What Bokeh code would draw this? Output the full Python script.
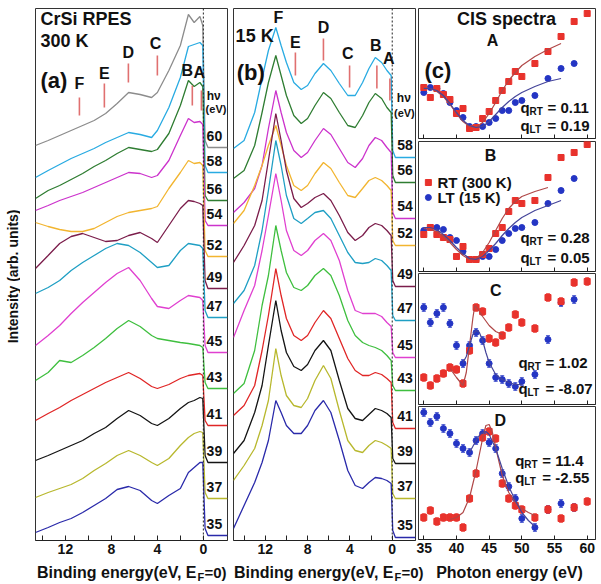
import math
from bokeh.plotting import figure
from bokeh.layouts import row, column
from bokeh.models import Range1d, FixedTicker, Span, Whisker, ColumnDataSource, TeeHead
from bokeh.embed import file_html
from bokeh.resources import INLINE
from bokeh.core.properties import value

FONT = "Liberation Sans"

# ---------------- panel (a): CrSi RPES, 300 K ----------------
be_a = [14.6, 13.5, 12.5, 11.5, 10.5, 9.5, 8.5, 7.5, 6.5, 5.5, 4.5, 4.0, 3.0, 2.0, 1.3, 0.8, 0.3, 0.05, -0.15, -0.4, -2.1]
a_60 = [394, 399, 404, 409, 414, 419, 426, 436, 447, 445, 442, 447, 469, 494, 525, 517, 523, 514, 399, 392, 392]
a_58 = [362, 369, 375, 381, 386, 391, 397, 402, 407, 405, 402, 409, 432, 462, 493, 495, 497, 494, 374, 367, 367]
a_56 = [341, 349, 354, 360, 366, 373, 379, 386, 392, 390, 388, 390, 406, 434, 459, 453, 457, 453, 344, 339, 339]
a_54 = [329, 334, 339, 343, 347, 352, 357, 362, 367, 366, 362, 364, 379, 404, 421, 417, 418, 415, 319, 314, 314]
a_52 = [317, 313, 310, 308, 308, 311, 317, 323, 327, 329, 331, 333, 351, 367, 379, 376, 377, 374, 289, 283, 283]
a_49 = [271, 284, 296, 303, 306, 302, 298, 299, 304, 307, 301, 297, 314, 331, 339, 338, 336, 334, 259, 251, 251]
a_47 = [246, 252, 259, 269, 277, 284, 291, 296, 294, 287, 277, 272, 274, 289, 296, 295, 294, 291, 229, 222, 222]
a_45 = [194, 204, 214, 226, 237, 247, 257, 266, 272, 259, 241, 233, 231, 239, 244, 243, 242, 239, 194, 187, 187]
a_43 = [159, 167, 179, 177, 184, 192, 201, 211, 219, 213, 204, 201, 199, 197, 196, 195, 194, 192, 157, 151, 151]
a_41 = [119, 126, 132, 139, 145, 151, 157, 162, 167, 161, 153, 151, 155, 161, 164, 165, 166, 164, 119, 114, 114]
a_39 = [79, 84, 89, 94, 99, 106, 112, 121, 129, 124, 116, 114, 121, 131, 137, 139, 142, 141, 84, 77, 77]
a_37 = [42, 47, 51, 55, 61, 69, 76, 84, 89, 84, 77, 74, 81, 94, 102, 106, 108, 107, 47, 41, 41]
a_35 = [7, 12, 17, 21, 27, 34, 41, 50, 53, 49, 39, 36, 44, 51, 67, 72, 77, 77, 11, 4, 4]
hv_a = [60, 58, 56, 54, 52, 49, 47, 45, 43, 41, 39, 37, 35]
spec_a = [a_60, a_58, a_56, a_54, a_52, a_49, a_47, a_45, a_43, a_41, a_39, a_37, a_35]

# ---------------- panel (b): 15 K ----------------
be_b = [15.0, 14.0, 13.0, 12.3, 11.7, 11.0, 10.5, 10.0, 9.3, 8.6, 8.0, 7.3, 6.5, 5.8, 5.0, 4.2, 3.5, 2.8, 2.2, 1.6, 1.0, 0.5, 0.1, -0.05, -0.3, -2.2]
b_58 = [391, 399, 427, 461, 489, 512, 494, 477, 457, 450, 454, 466, 476, 469, 456, 444, 444, 457, 471, 482, 477, 469, 464, 389, 382, 382]
b_56 = [361, 369, 394, 427, 457, 484, 464, 444, 424, 416, 421, 434, 447, 441, 427, 414, 412, 424, 437, 446, 441, 432, 427, 364, 357, 357]
b_54 = [327, 337, 351, 374, 411, 449, 427, 407, 389, 382, 387, 399, 411, 405, 391, 377, 372, 381, 394, 402, 399, 392, 387, 327, 321, 321]
b_52 = [316, 329, 354, 374, 394, 414, 394, 374, 354, 349, 354, 366, 377, 371, 357, 344, 342, 351, 359, 362, 359, 354, 349, 299, 294, 294]
b_49 = [277, 294, 314, 339, 379, 426, 399, 369, 341, 332, 336, 342, 346, 339, 324, 307, 299, 304, 312, 316, 314, 309, 304, 259, 253, 253]
b_47 = [236, 249, 274, 309, 349, 399, 374, 344, 321, 316, 321, 327, 329, 321, 304, 287, 277, 276, 277, 281, 279, 274, 269, 224, 219, 219]
b_45 = [202, 229, 254, 289, 324, 366, 339, 309, 289, 284, 289, 299, 306, 299, 279, 249, 229, 226, 226, 226, 223, 217, 213, 187, 182, 182]
b_43 = [146, 156, 189, 234, 264, 314, 289, 267, 252, 249, 254, 264, 271, 264, 244, 219, 204, 197, 194, 192, 189, 184, 179, 154, 149, 149]
b_41 = [124, 134, 154, 189, 224, 271, 244, 221, 204, 199, 204, 217, 229, 221, 201, 181, 169, 164, 164, 167, 165, 161, 157, 117, 111, 111]
b_39 = [86, 99, 127, 154, 194, 239, 209, 187, 173, 169, 175, 189, 199, 189, 159, 131, 121, 119, 125, 131, 129, 126, 122, 81, 76, 76]
b_37 = [59, 74, 91, 114, 139, 191, 164, 144, 134, 132, 141, 159, 174, 161, 129, 99, 89, 87, 94, 99, 97, 94, 91, 46, 41, 41]
b_35 = [11, 34, 57, 77, 99, 139, 127, 114, 106, 106, 114, 129, 139, 127, 99, 69, 54, 51, 57, 62, 61, 59, 56, 9, 2, 2]
hv_b = [58, 56, 54, 52, 49, 47, 45, 43, 41, 39, 37, 35]
spec_b = [b_58, b_56, b_54, b_52, b_49, b_47, b_45, b_43, b_41, b_39, b_37, b_35]

line_colors = {60: "#8c8c8c", 58: "#29abe2", 56: "#2f7d32", 54: "#cc33cc", 52: "#f2b530",
               49: "#7b1d4b", 47: "#1f9fc4", 45: "#e040d0", 43: "#3fbf3f", 41: "#e02626",
               39: "#141414", 37: "#b8b82e", 35: "#2a2aaa"}

# peak markers
peak_names = ["F", "E", "D", "C", "B", "A"]
pk_a_be = [10.78, 8.61, 6.52, 4.0, 0.96, 0.17]
pk_a_lo = [424, 432, 457, 464, 434, 429]
pk_a_hi = [442, 456, 476, 484, 454, 449]
pk_b_be = [9.15, 6.5, 4.03, 1.45, 0.22]
pk_b_lo = [464, 479, 452, 451, 439]
pk_b_hi = [487, 501, 474, 474, 461]

# ---------------- panel (c): CIS spectra ----------------
hv_rt = [35, 36, 37, 38, 39, 40, 41, 42, 43, 44, 45, 46, 47, 48, 49, 50, 52, 54, 56, 58, 60]
hv_lt = [35, 36, 37, 38, 39, 40, 41, 42, 43, 44, 45, 46, 47, 48, 49, 50, 52, 54, 56, 58]

A_rt = [51, 41, 50, 44, 39, 25, 30, 10, 11, 20, 27, 38, 48, 57, 67, 62, 75, 87, 102, 117, 125]
A_lt = [46, 51, 50, 45, 36, 28, 21, 12, 12, 12, 16, 20, 28, 28, 36, 38, 43, 60, 70, 75]
A_rt_fit_hv = [35, 36, 37, 38, 39, 40, 41, 42, 43, 44, 45, 46, 47, 48, 49, 50, 52, 54, 56]
A_rt_fit = [51, 50, 47, 42, 34, 25, 17, 12, 11, 16, 25, 36, 48, 58, 66, 73, 82, 89, 95]
A_lt_fit_hv = [35, 36, 37, 38, 39, 40, 41, 42, 43, 44, 45, 46, 47, 48, 49, 50, 52, 54, 56]
A_lt_fit = [50, 50, 48, 43, 35, 26, 18, 13, 11, 12, 17, 24, 31, 37, 42, 46, 52, 57, 60]

B_rt = [37, 44, 37, 34, 32, 15, 25, 12, 12, 17, 23, 38, 44, 60, 71, 68, 71, 94, 114, 119, 127]
B_lt = [41, 44, 44, 42, 34, 31, 20, 12, 12, 15, 15, 22, 31, 38, 43, 44, 49, 68, 81, 93]
B_rt_fit_hv = [35, 36, 37, 38, 39, 40, 41, 42, 43, 44, 45, 46, 47, 48, 49, 50, 52, 54]
B_rt_fit = [43, 42, 40, 35, 29, 22, 16, 12, 13, 19, 29, 41, 53, 63, 70, 75, 80, 84]
B_lt_fit_hv = [35, 36, 37, 38, 39, 40, 41, 42, 43, 44, 45, 46, 47, 48, 49, 50, 52, 54, 56]
B_lt_fit = [44, 44, 42, 37, 31, 24, 18, 13, 12, 15, 21, 28, 36, 43, 49, 54, 61, 66, 71]

C_rt = [27, 19, 26, 31, 37, 35, 21, 54, 97, 93, 66, 62, 69, 77, 90, 82, 76, 107, 103, 122, 123]
C_lt = [97, 82, 91, 97, 81, 59, 41, 59, 72, 64, 41, 27, 25, 21, 18, 23, 30, 65, 102, 105]
C_rt_fit_hv = [39, 40, 40.5, 41, 41.5, 42, 42.5, 42.8, 43.2, 44, 45, 46, 47]
C_rt_fit = [36, 27, 23, 19, 32, 59, 86, 99, 96, 88, 79, 73, 70]
C_lt_fit_hv = [41, 41.5, 42, 42.5, 43, 43.5, 44, 44.5, 45, 46, 47, 48, 49, 50]
C_lt_fit = [42, 48, 59, 70, 74, 72, 64, 52, 42, 30, 25, 22, 20, 20]

D_rt = [22, 29, 18, 22, 22, 22, 12, 41, 66, 102, 108, 101, 56, 41, 34, 30, 22, 30, 21, 32, 38]
D_lt = [127, 117, 123, 111, 106, 96, 91, 87, 99, 106, 97, 91, 66, 53, 41, 21, 12, 30, 36, 32]
D_rt_fit_hv = [39, 40, 41, 42, 43, 44, 44.5, 45, 45.5, 46, 47, 48, 49, 50, 51, 52]
D_rt_fit = [20, 22, 27, 42, 69, 101, 114, 115, 107, 92, 64, 47, 37, 31, 27, 24]
D_lt_fit_hv = [42, 42.5, 43, 43.5, 44, 44.5, 45, 46, 47, 48, 49, 50, 51, 52]
D_lt_fit = [87, 93, 99, 104, 107, 108, 105, 91, 71, 53, 39, 27, 19, 13]

err_cd = 4
q_rt = ["0.11", "0.28", "1.02", "11.4"]
q_lt = ["0.19", "0.05", "-8.07", "-2.55"]
cis_ticks = [35, 40, 45, 50, 55, 60]

RED = "#e8322c"
BLUE = "#2435c4"
RED_FIT = "#b04848"
BLUE_FIT = "#45459a"
PEAK = "#e07070"

ROW_H = 560


def base_fig(width, height, xr, yr, left, right, top, bottom):
    p = figure(width=width, height=height, x_range=xr, y_range=yr,
               output_backend="svg", toolbar_location=None,
               min_border_left=left, min_border_right=right,
               min_border_top=top, min_border_bottom=bottom)
    p.xgrid.visible = False
    p.ygrid.visible = False
    p.yaxis.visible = False
    p.outline_line_color = "#333333"
    p.outline_line_width = 1
    p.background_fill_color = "white"
    p.border_fill_color = "white"
    ax = p.xaxis[0]
    ax.axis_line_color = "#222222"
    ax.major_tick_line_color = "#222222"
    ax.minor_tick_line_color = "#222222"
    ax.major_tick_in = 5
    ax.major_tick_out = 0
    ax.minor_tick_in = 5
    ax.minor_tick_out = 0
    ax.axis_label_standoff = 0
    ax.major_label_text_font = FONT
    ax.major_label_text_font_style = "bold"
    ax.major_label_text_font_size = "14px"
    ax.major_label_text_color = "#111111"
    ax.major_label_standoff = 3
    return p


def text_fig(width, height):
    p = figure(width=width, height=height, x_range=Range1d(0, width), y_range=Range1d(0, height),
               output_backend="svg", toolbar_location=None, min_border=0)
    p.xaxis.visible = False
    p.yaxis.visible = False
    p.xgrid.visible = False
    p.ygrid.visible = False
    p.outline_line_color = None
    return p


def txt(p, x, y, s, size, align="center", x_offset=0, angle=0.0, color="#111111"):
    p.text(x=[x], y=[y], text=[s], text_font=value(FONT), text_font_size=size,
           text_font_style="bold", text_align=align, text_baseline="middle",
           text_color=color, x_offset=x_offset, angle=angle)


def spectra_panel(p, be, specs, hvs, label_x, label_dy):
    for hv, vals in zip(hvs, specs):
        p.line(be, vals, line_color=line_colors[hv], line_width=1.3)
    p.add_layout(Span(location=0, dimension="height", line_color="#222222",
                      line_dash="2 2", line_width=1))
    for hv, vals in zip(hvs, specs):
        txt(p, label_x, vals[-1] + label_dy, str(hv), "14px")


# ---- y-axis title strip
yl = text_fig(20, ROW_H)
txt(yl, 12, 278, "Intensity (arb. units)", "14px", angle=math.pi / 2)

# ---- (a)
pa = base_fig(210, ROW_H, Range1d(14.6, -2.1), Range1d(-1, 531), 15, 3, 8, 20)
pa.xaxis.ticker = FixedTicker(ticks=[12, 8, 4, 0], minor_ticks=[14, 10, 6, 2])
spectra_panel(pa, be_a, spec_a, hv_a, -0.96, 12)
pa.segment(x0=pk_a_be, y0=pk_a_lo, x1=pk_a_be, y1=pk_a_hi, line_color=PEAK, line_width=1.6)
for n, x, y in zip(peak_names, [10.78, 8.61, 6.52, 4.17, 1.39, 0.35], [456, 466, 487, 496, 469, 467]):
    txt(pa, x, y, n, "16px")
txt(pa, 14.17, 521, "CrSi RPES", "18px", align="left")
txt(pa, 14.17, 499, "300 K", "18px", align="left")
txt(pa, 14.17, 459, "(a)", "22px", align="left")
txt(pa, -0.9, 444, "hν", "12px")
txt(pa, -1.1, 431, "(eV)", "11px")

# ---- (b)
pb = base_fig(186, ROW_H, Range1d(15.0, -2.2), Range1d(-1, 531), 3, 1, 8, 20)
pb.xaxis.ticker = FixedTicker(ticks=[12, 8, 4, 0], minor_ticks=[14, 10, 6, 2])
spectra_panel(pb, be_b, spec_b, hv_b, -1.2, 13)
pb.segment(x0=pk_b_be, y0=pk_b_lo, x1=pk_b_be, y1=pk_b_hi, line_color=PEAK, line_width=1.6)
for n, x, y in zip(peak_names, [10.75, 9.15, 6.5, 4.2, 1.55, 0.32], [522, 497, 512, 486, 494, 481]):
    txt(pb, x, y, n, "16px")
txt(pb, 14.8, 504, "15 K", "18px", align="left")
txt(pb, 14.7, 467, "(b)", "22px", align="left")
txt(pb, -1.1, 442, "hν", "12px")
txt(pb, -1.15, 427, "(eV)", "11px")

# ---- (c)
xr_c = Range1d(34.19, 61.27)


def cis_panel(height, frame_h, top, bottom, show_labels):
    p = base_fig(185, height, xr_c, Range1d(0, frame_h), 2, 6, top, bottom)
    if show_labels:
        p.xaxis.ticker = FixedTicker(ticks=cis_ticks)
    else:
        p.xaxis.ticker = FixedTicker(ticks=[], minor_ticks=cis_ticks)
    p.xaxis.major_tick_in = 4
    p.xaxis.minor_tick_in = 4
    return p


def add_points(p, rt, lt, rtf_hv, rtf, ltf_hv, ltf, err=None):
    if err is not None:
        for hv, vals, col in ((hv_lt, lt, BLUE), (hv_rt, rt, RED)):
            src = ColumnDataSource(dict(x=hv, lo=[v - err for v in vals], up=[v + err for v in vals]))
            p.add_layout(Whisker(source=src, base="x", lower="lo", upper="up",
                                 line_color=col, line_alpha=0.7, line_width=1,
                                 upper_head=TeeHead(size=4, line_color=col, line_alpha=0.7),
                                 lower_head=TeeHead(size=4, line_color=col, line_alpha=0.7)))
    p.scatter(hv_lt, lt, marker="circle", size=6, fill_color=BLUE, line_color=BLUE)
    p.scatter(hv_rt, rt, marker="square", size=6, fill_color=RED, line_color=RED)
    p.line(rtf_hv, rtf, line_color=RED_FIT, line_width=1.2)
    p.line(ltf_hv, ltf, line_color=BLUE_FIT, line_width=1.2)


def qlab(p, x, y, sub, rest):
    txt(p, x, y, "q", "15px", align="left")
    txt(p, x, y - 4, sub, "10px", align="left", x_offset=9)
    txt(p, x, y, "= " + rest, "15px", align="left", x_offset=27)


cA = cis_panel(140, 130, 8, 2, False)
add_points(cA, A_rt, A_lt, A_rt_fit_hv, A_rt_fit, A_lt_fit_hv, A_lt_fit)
txt(cA, 47.65, 120, "CIS spectra", "18px")
txt(cA, 45.5, 98, "A", "16px")
txt(cA, 35.1, 68, "(c)", "22px", align="left")
qlab(cA, 49.8, 31, "RT", q_rt[0])
qlab(cA, 49.8, 13, "LT", q_lt[0])

cB = cis_panel(132, 130, 1, 1, False)
add_points(cB, B_rt, B_lt, B_rt_fit_hv, B_rt_fit, B_lt_fit_hv, B_lt_fit)
txt(cB, 45.2, 116, "B", "16px")
cB.scatter([35.7], [89], marker="square", size=6, fill_color=RED, line_color=RED)
cB.scatter([35.7], [74], marker="circle", size=6, fill_color=BLUE, line_color=BLUE)
txt(cB, 37.1, 89, "RT (300 K)", "15px", align="left")
txt(cB, 37.1, 74, "LT (15 K)", "15px", align="left")
qlab(cB, 49.8, 34, "RT", q_rt[1])
qlab(cB, 49.8, 14, "LT", q_lt[1])

cC = cis_panel(133, 131, 1, 1, False)
add_points(cC, C_rt, C_lt, C_rt_fit_hv, C_rt_fit, C_lt_fit_hv, C_lt_fit, err=err_cd)
txt(cC, 46.0, 114, "C", "16px")
qlab(cC, 49.5, 42, "RT", q_rt[2])
qlab(cC, 49.5, 16, "LT", q_lt[2])

cD = cis_panel(ROW_H - 405, 133, 1, 21, True)
add_points(cD, D_rt, D_lt, D_rt_fit_hv, D_rt_fit, D_lt_fit_hv, D_lt_fit, err=err_cd)
txt(cD, 46.7, 119, "D", "16px")
qlab(cD, 49.0, 79, "RT", q_rt[3])
qlab(cD, 49.0, 62, "LT", q_lt[3])

# ---- bottom titles strip (x in px from the page's left edge)
tb = text_fig(601, 24)
txt(tb, 196, 12, "Binding energy(eV, E", "16px", align="right")
txt(tb, 196, 8, "F", "11px", align="left", x_offset=1)
txt(tb, 196, 12, "=0)", "15px", align="left", x_offset=8)
txt(tb, 393, 12, "Binding energy(eV, E", "16px", align="right")
txt(tb, 393, 8, "F", "11px", align="left", x_offset=1)
txt(tb, 393, 12, "=0)", "15px", align="left", x_offset=8)
txt(tb, 509, 12, "Photon energy (eV)", "16px")

layout = column(row(yl, pa, pb, column(cA, cB, cC, cD)), tb)
open("out.html", "w").write(file_html(layout, INLINE))
